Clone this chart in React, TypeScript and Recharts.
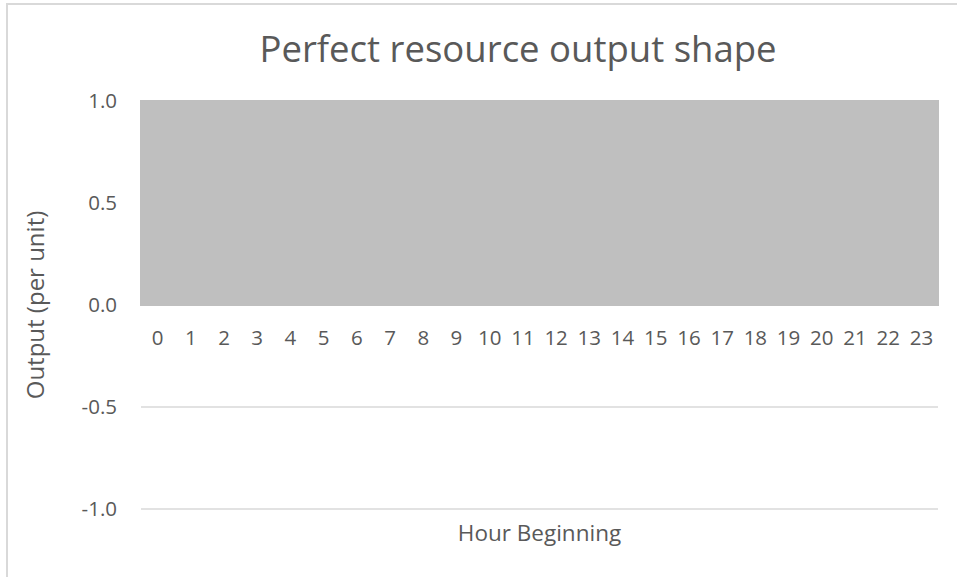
import React from "react";
import {
  BarChart,
  Bar,
  XAxis,
  YAxis,
  CartesianGrid,
} from "recharts";

const hours = [
  "0", "1", "2", "3", "4", "5", "6", "7", "8", "9", "10", "11",
  "12", "13", "14", "15", "16", "17", "18", "19", "20", "21", "22", "23",
];
const output = [
  1, 1, 1, 1, 1, 1, 1, 1, 1, 1, 1, 1,
  1, 1, 1, 1, 1, 1, 1, 1, 1, 1, 1, 1,
];
const yTicks = [-1, -0.5, 0, 0.5, 1];

const W = 957;
const H = 577;
const TOP = 101;
const PLOT_H = 408;
const ZERO_Y = TOP + PLOT_H / 2;
const FONT = "'Open Sans', sans-serif";
const TEXT = "#595959";

const data = hours.map((hour, i) => ({ hour, value: output[i] }));

// Excel puts the category labels on the zero line, not at the bottom
function HourTick(props: any) {
  const { x, payload } = props;
  return (
    <text
      x={x}
      y={ZERO_Y + 40}
      textAnchor="middle"
      fill={TEXT}
      fontSize={20.5}
      fontFamily={FONT}
    >
      {payload.value}
    </text>
  );
}

export default function App() {
  return (
    <div
      style={{
        position: "absolute",
        left: 0,
        top: 0,
        width: W,
        height: H,
        overflow: "hidden",
        background: "#fff",
      }}
    >
      <div
        style={{
          position: "absolute",
          left: 6,
          top: 3,
          width: 1200,
          height: 800,
          border: "2px solid #D9D9D9",
        }}
      />
      <div
        style={{
          position: "absolute",
          left: 518,
          top: 25,
          transform: "translateX(-50%)",
          whiteSpace: "nowrap",
          fontFamily: FONT,
          fontSize: 36.5,
          color: TEXT,
          lineHeight: "46px",
        }}
      >
        Perfect resource output shape
      </div>
      <BarChart
        width={W}
        height={H}
        data={data}
        barCategoryGap={0}
        barGap={0}
        margin={{ top: TOP, right: 19, bottom: 0, left: 0 }}
        style={{ position: "absolute", left: 0, top: 0 }}
      >
        <CartesianGrid vertical={false} stroke="#D9D9D9" strokeWidth={1.5} />
        <XAxis
          dataKey="hour"
          height={68}
          axisLine={false}
          tickLine={false}
          interval={0}
          tick={<HourTick />}
          label={{
            value: "Hour Beginning",
            position: "insideBottom",
            offset: 36,
            fill: TEXT,
            fontSize: 22.5,
            fontFamily: FONT,
          }}
        />
        <YAxis
          width={141}
          domain={[-1, 1]}
          ticks={yTicks}
          axisLine={false}
          tickLine={false}
          tickSize={0}
          tickMargin={24}
          tickFormatter={(v: number) => v.toFixed(1)}
          tick={{ fill: TEXT, fontSize: 20.5, fontFamily: FONT }}
          label={{
            value: "Output (per unit)",
            angle: -90,
            position: "insideLeft",
            offset: 35,
            fill: TEXT,
            fontSize: 24,
            fontFamily: FONT,
            style: { textAnchor: "middle" },
          }}
        />
        <Bar
          dataKey="value"
          fill="#BFBFBF"
          stroke="#BFBFBF"
          strokeWidth={1.5}
          shapeRendering="crispEdges"
          isAnimationActive={false}
        />
      </BarChart>
    </div>
  );
}
